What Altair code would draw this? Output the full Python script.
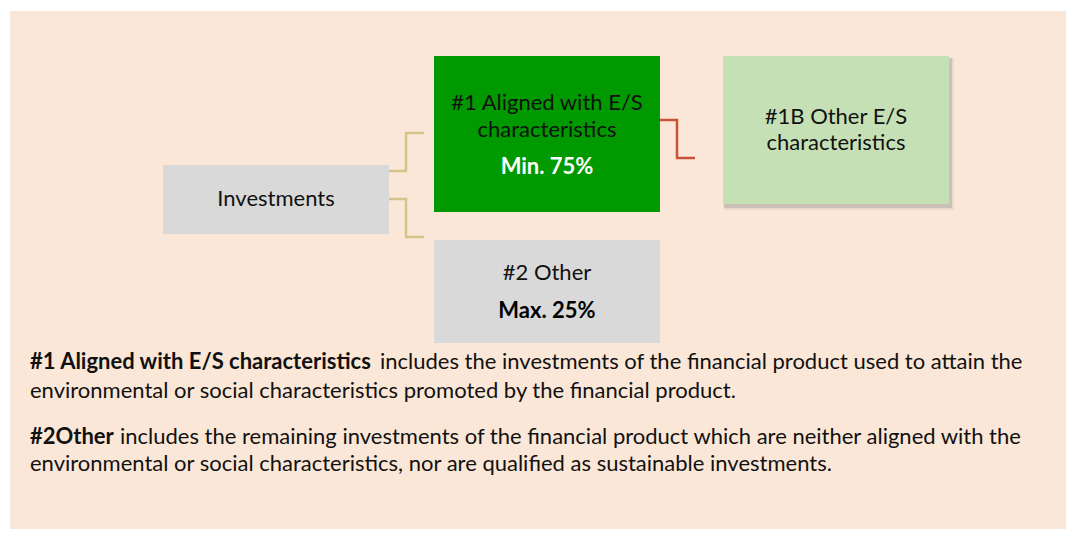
import altair as alt
import pandas as pd

# ---- canvas (reference pixel coordinates) ----
W, H = 1058, 521
OX, OY = 8, 8
FONT = "Lato"

# ---- boxes ----
box_names = ["panel", "investments", "aligned", "other_es", "other"]
box_x0 = [10, 163, 434, 723, 434]
box_x1 = [1074, 389, 660, 949, 660]
box_y0 = [11, 165, 56, 56, 240]
box_y1 = [537, 234, 212, 204, 343]
box_fill = ["#FBE7D7", "#D9D9D9", "#009900", "#C5E0B4", "#D9D9D9"]

# ---- connectors ----
gold_seg = [0, 0, 0, 0, 1, 1, 1, 1]
gold_x = [389, 406, 406, 424, 389, 406, 406, 424]
gold_y = [171, 171, 133, 133, 199, 199, 237, 237]
red_seg = [0, 0, 0, 0]
red_x = [660, 677, 677, 695]
red_y = [120, 120, 158, 158]

# ---- box labels ----
box_text = ["Investments", "#1 Aligned with E/S", "characteristics",
            "#1B Other E/S", "characteristics", "#2 Other"]
box_text_x = [276, 547, 547, 836, 836, 547]
box_text_y = [199, 103, 130, 117, 143, 273]
box_bold_text = ["Min. 75%", "Max. 25%"]
box_bold_x = [547, 547]
box_bold_y = [167, 311]
box_bold_color = ["#FFFFFF", "#000000"]

# ---- explanatory paragraph ----
para_bold = ["#1 Aligned with E/S characteristics", "#2Other"]
para_bold_x = [30, 30]
para_bold_y = [362, 437]
para_text = [
    "includes the investments of the financial product used to attain the",
    "environmental or social characteristics promoted by the financial product.",
    "includes the remaining investments of the financial product which are neither aligned with the",
    "environmental or social characteristics, nor are qualified as sustainable investments.",
]
para_x = [380, 30, 120, 30]
para_y = [362, 391, 437, 464]

xs = alt.Scale(domain=[OX, OX + W], nice=False, zero=False)
ys = alt.Scale(domain=[OY, OY + H], nice=False, zero=False, reverse=True)

boxes = pd.DataFrame({"name": box_names, "x0": box_x0, "x1": box_x1,
                      "y0": box_y0, "y1": box_y1, "fill": box_fill})

def X(f):
    return alt.X(f, type="quantitative", scale=xs, axis=None)

def Y(f):
    return alt.Y(f, type="quantitative", scale=ys, axis=None)

panel = alt.Chart(boxes[boxes["name"] == "panel"]).mark_rect().encode(
    x=X("x0"), x2="x1", y=Y("y0"), y2="y1",
    color=alt.Color("fill:N", scale=None),
)
rects = alt.Chart(boxes[boxes["name"] != "panel"]).mark_rect().encode(
    x=X("x0"), x2="x1", y=Y("y0"), y2="y1",
    color=alt.Color("fill:N", scale=None),
)

shadow_df = boxes[boxes["name"] == "other_es"]
shadow1 = alt.Chart(shadow_df).transform_calculate(
    sx0="datum.x0 + 1", sx1="datum.x1 + 5", sy0="datum.y0 + 2", sy1="datum.y1 + 6"
).mark_rect(color="#9A9A9A", opacity=0.18).encode(
    x=X("sx0"), x2="sx1", y=Y("sy0"), y2="sy1",
)
shadow2 = alt.Chart(shadow_df).transform_calculate(
    sx0="datum.x0 + 1", sx1="datum.x1 + 3", sy0="datum.y0 + 2", sy1="datum.y1 + 4"
).mark_rect(color="#8C8C8C", opacity=0.3).encode(
    x=X("sx0"), x2="sx1", y=Y("sy0"), y2="sy1",
)

gold = alt.Chart(pd.DataFrame({"seg": gold_seg, "x": gold_x, "y": gold_y,
                               "o": list(range(len(gold_x)))})).mark_line(
    color="#D3C48A", strokeWidth=2.5).encode(
    x=X("x"), y=Y("y"), detail="seg:N", order="o:Q")
red = alt.Chart(pd.DataFrame({"seg": red_seg, "x": red_x, "y": red_y,
                              "o": list(range(len(red_x)))})).mark_line(
    color="#C9533A", strokeWidth=2.5).encode(
    x=X("x"), y=Y("y"), detail="seg:N", order="o:Q")

btxt = alt.Chart(pd.DataFrame({"t": box_text, "x": box_text_x, "y": box_text_y})).mark_text(
    font=FONT, fontSize=22, align="center", baseline="middle", color="#111111").encode(
    x=X("x"), y=Y("y"), text="t:N")
bbold = alt.Chart(pd.DataFrame({"t": box_bold_text, "x": box_bold_x, "y": box_bold_y,
                                "c": box_bold_color})).mark_text(
    font=FONT, fontSize=22, fontWeight="bold", align="center", baseline="middle").encode(
    x=X("x"), y=Y("y"), text="t:N", color=alt.Color("c:N", scale=None))

pbold = alt.Chart(pd.DataFrame({"t": para_bold, "x": para_bold_x, "y": para_bold_y})).mark_text(
    font=FONT, fontSize=22, fontWeight="bold", align="left", baseline="middle", color="#111111").encode(
    x=X("x"), y=Y("y"), text="t:N")
ptxt = alt.Chart(pd.DataFrame({"t": para_text, "x": para_x, "y": para_y})).mark_text(
    font=FONT, fontSize=22, align="left", baseline="middle", color="#111111").encode(
    x=X("x"), y=Y("y"), text="t:N")

chart = alt.layer(panel, shadow1, shadow2, rects, gold, red, btxt, bbold, pbold, ptxt).properties(
    width=W, height=H, padding=0, autosize=alt.AutoSizeParams(type="none"),
    background="#FFFFFF",
).configure_view(stroke=None)

chart.save("out.html", embed_options={"renderer": "svg", "actions": False})
